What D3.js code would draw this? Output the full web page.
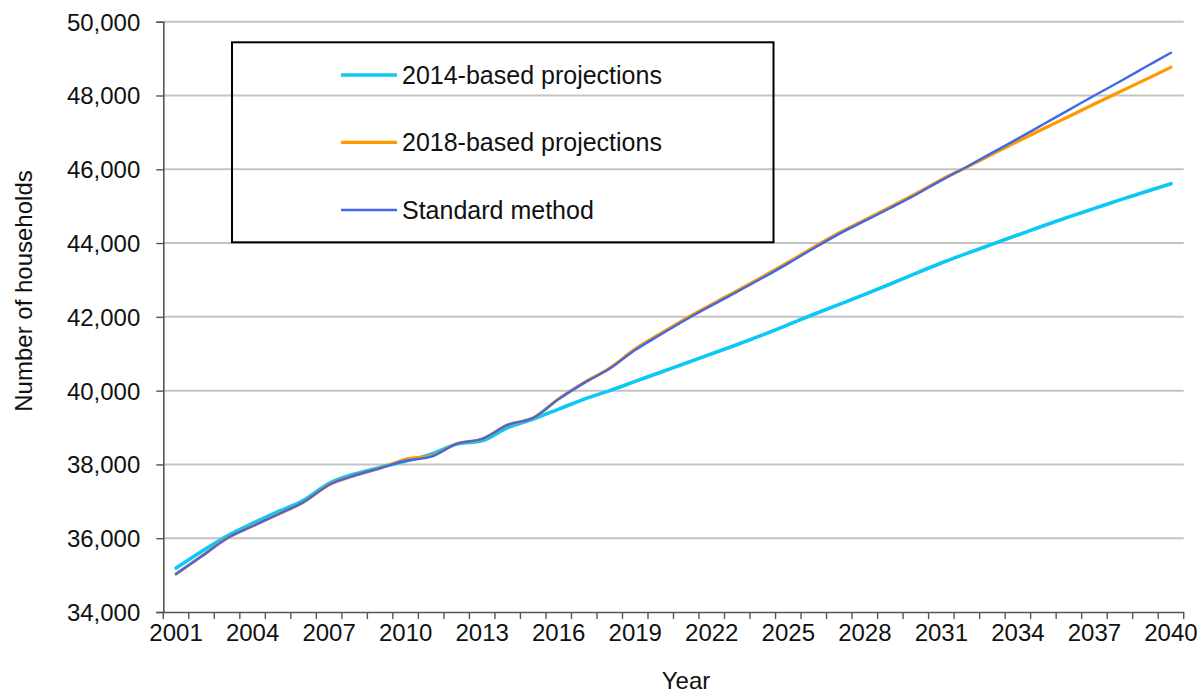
<!DOCTYPE html>
<html>
<head>
<meta charset="utf-8">
<script src="https://cdn.jsdelivr.net/npm/d3@7"></script>
<style>
  html, body { margin: 0; padding: 0; background: #fff; }
  svg { display: block; font-family: "Liberation Sans", Arial, sans-serif; }
</style>
</head>
<body>
<svg id="chart" width="1204" height="693"></svg>
<script>
// Household projections, 2001-2040
const years = [2001, 2002, 2003, 2004, 2005, 2006, 2007, 2008, 2009, 2010,
               2011, 2012, 2013, 2014, 2015, 2016, 2017, 2018, 2019, 2020,
               2021, 2022, 2023, 2024, 2025, 2026, 2027, 2028, 2029, 2030,
               2031, 2032, 2033, 2034, 2035, 2036, 2037, 2038, 2039, 2040];

const based2014 = [35190, 35640, 36060, 36400, 36720, 37030, 37490, 37740, 37920, 38090,
                   38280, 38550, 38640, 39000, 39230, 39500, 39770, 40000, 40250, 40500,
                   40750, 41000, 41250, 41510, 41790, 42070, 42340, 42610, 42890, 43180,
                   43460, 43720, 43970, 44220, 44470, 44710, 44940, 45170, 45390, 45610];

const based2018 = [35030, 35510, 36000, 36330, 36650, 36980, 37450, 37700, 37900, 38140,
                   38230, 38560, 38690, 39070, 39260, 39780, 40220, 40610, 41130, 41550,
                   41960, 42340, 42710, 43090, 43480, 43890, 44280, 44630, 44980, 45340,
                   45720, 46060, 46410, 46760, 47100, 47430, 47770, 48100, 48430, 48765];

const standardMethod = [35030, 35510, 36000, 36330, 36650, 36980, 37450, 37700, 37900, 38100,
                        38210, 38560, 38690, 39070, 39260, 39770, 40210, 40600, 41100, 41520,
                        41930, 42310, 42680, 43060, 43450, 43860, 44250, 44600, 44950, 45310,
                        45700, 46070, 46450, 46830, 47220, 47610, 48000, 48380, 48770, 49160];

const yTicks = [34000, 36000, 38000, 40000, 42000, 44000, 46000, 48000, 50000];
const xLabelYears = [2001, 2004, 2007, 2010, 2013, 2016, 2019, 2022, 2025, 2028, 2031, 2034, 2037, 2040];

const seriesNames = ["2014-based projections", "2018-based projections", "Standard method"];
const seriesValues = [based2014, based2018, standardMethod];
const seriesColors = ["#0cc8f4", "#ff9900", "#4169e6"];
const seriesWidths = [3.6, 3.2, 2.4];

const svg = d3.select("#chart");
const plot = { left: 163.3, right: 1183.7, top: 21.7, bottom: 612 };

const x = d3.scaleBand().domain(years).range([plot.left, plot.right]).padding(0);
const y = d3.scaleLinear().domain([34000, 50000]).range([plot.bottom, plot.top]);
const cx = d => x(d) + x.bandwidth() / 2;

// horizontal gridlines
svg.append("g")
  .selectAll("line")
  .data(yTicks.filter(t => t > 34000))
  .join("line")
  .attr("x1", plot.left).attr("x2", plot.right)
  .attr("y1", d => y(d)).attr("y2", d => y(d))
  .attr("stroke", "#c3c3c3").attr("stroke-width", 2);

// y axis
const yAxis = svg.append("g")
  .attr("transform", `translate(${plot.left},0)`)
  .call(d3.axisLeft(y).tickValues(yTicks).tickSize(7).tickPadding(16).tickFormat(d3.format(",")));
yAxis.select(".domain").attr("stroke", "#555").attr("stroke-width", 1.6);
yAxis.selectAll(".tick line").attr("stroke", "#555").attr("stroke-width", 1.4);
yAxis.selectAll("text").attr("font-size", 24).attr("fill", "#111")
  .attr("font-family", "Liberation Sans, Arial, sans-serif").attr("dy", "0.35em");

// x axis: tick marks on category boundaries, labels every third year
const xAxis = svg.append("g")
  .attr("transform", `translate(0,${plot.bottom})`)
  .call(d3.axisBottom(x).tickValues(xLabelYears).tickSize(0).tickPadding(0));
xAxis.select(".domain").attr("stroke", "#555").attr("stroke-width", 1.6);
xAxis.selectAll("text").attr("font-size", 24).attr("fill", "#111")
  .attr("font-family", "Liberation Sans, Arial, sans-serif")
  .attr("y", 28.5).attr("dy", 0);

const boundaries = years.map(d => x(d)).concat([x(years[years.length - 1]) + x.bandwidth()]);
svg.append("g")
  .selectAll("line")
  .data(boundaries)
  .join("line")
  .attr("x1", d => d).attr("x2", d => d)
  .attr("y1", plot.bottom).attr("y2", plot.bottom + 7)
  .attr("stroke", "#555").attr("stroke-width", 1.4);

// series lines
const line = d3.line().x(d => cx(d.year)).y(d => y(d.value)).curve(d3.curveMonotoneX);
seriesValues.forEach((vals, i) => {
  svg.append("path")
    .datum(years.map((yr, j) => ({ year: yr, value: vals[j] })))
    .attr("fill", "none")
    .attr("stroke", seriesColors[i])
    .attr("stroke-width", seriesWidths[i])
    .attr("stroke-linejoin", "round")
    .attr("stroke-linecap", "round")
    .attr("d", line);
});

// axis titles
svg.append("text")
  .attr("transform", "translate(31.5,291) rotate(-90)")
  .attr("text-anchor", "middle")
  .attr("font-size", 24).attr("fill", "#111")
  .text("Number of households");

svg.append("text")
  .attr("x", 686).attr("y", 689)
  .attr("text-anchor", "middle")
  .attr("font-size", 24).attr("fill", "#111")
  .text("Year");

// legend
const legend = svg.append("g");
legend.append("rect")
  .attr("x", 232).attr("y", 42.3).attr("width", 541.5).attr("height", 200)
  .attr("fill", "none").attr("stroke", "#000").attr("stroke-width", 2);

const legendRows = [75, 142.3, 210];
seriesNames.forEach((name, i) => {
  legend.append("line")
    .attr("x1", 341).attr("x2", 397)
    .attr("y1", legendRows[i]).attr("y2", legendRows[i])
    .attr("stroke", seriesColors[i])
    .attr("stroke-width", seriesWidths[i]);
  legend.append("text")
    .attr("x", 402).attr("y", legendRows[i] + 8.8)
    .attr("font-size", 25).attr("fill", "#111")
    .text(name);
});
</script>
</body>
</html>
